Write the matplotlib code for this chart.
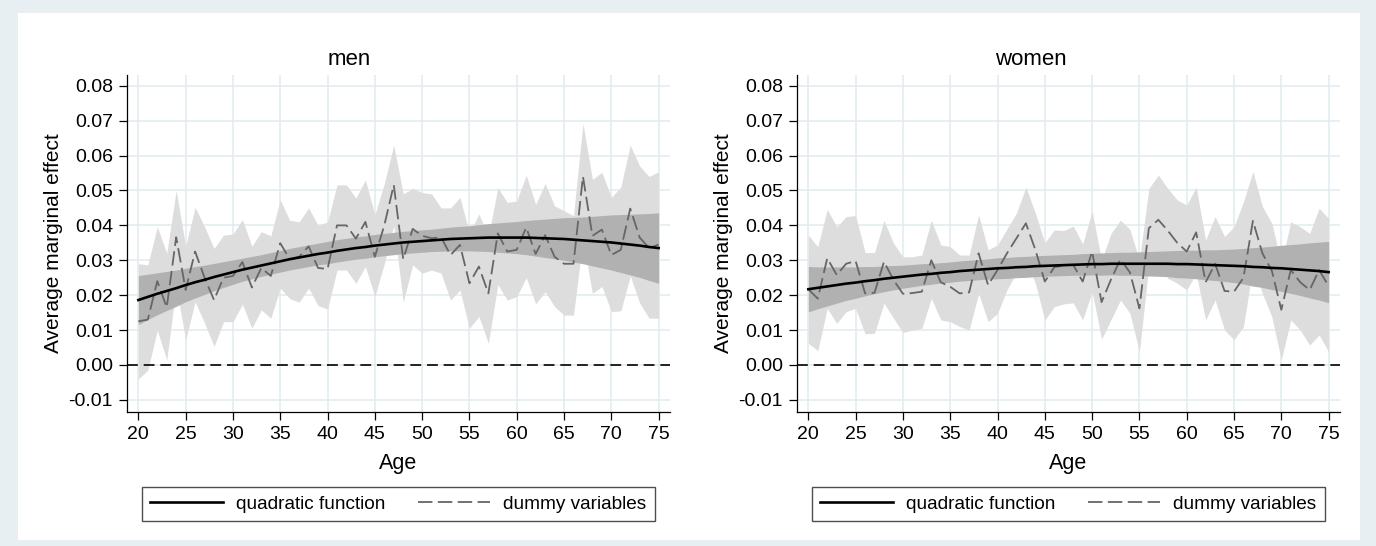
import matplotlib.pyplot as plt
import numpy as np
from matplotlib.patches import Rectangle
from matplotlib.ticker import FormatStrFormatter

plt.rcParams['font.family'] = ['Liberation Sans', 'DejaVu Sans']
plt.rcParams['axes.unicode_minus'] = False

ages = list(range(20, 76))

# men: dummy-variable estimates and their 95% CI
men_dummy = [0.0125, 0.0130, 0.0240, 0.0165, 0.0366, 0.0215, 0.0325, 0.0250, 0.0186, 0.0250,
             0.0255, 0.0295, 0.0222, 0.0278, 0.0255, 0.0349, 0.0303, 0.0310, 0.0340, 0.0278,
             0.0275, 0.0400, 0.0400, 0.0362, 0.0410, 0.0310, 0.0400, 0.0516, 0.0303, 0.0390,
             0.0370, 0.0363, 0.0366, 0.0315, 0.0344, 0.0234, 0.0282, 0.0205, 0.0377, 0.0325,
             0.0330, 0.0394, 0.0318, 0.0372, 0.0310, 0.0290, 0.0290, 0.0540, 0.0370, 0.0388,
             0.0315, 0.0330, 0.0448, 0.0365, 0.0335, 0.0345]
men_dummy_hi = [0.0290, 0.0287, 0.0396, 0.0320, 0.0500, 0.0340, 0.0452, 0.0396, 0.0334, 0.0372,
                0.0375, 0.0417, 0.0340, 0.0382, 0.0370, 0.0473, 0.0415, 0.0410, 0.0450, 0.0400,
                0.0410, 0.0516, 0.0516, 0.0478, 0.0530, 0.0430, 0.0520, 0.0630, 0.0490, 0.0506,
                0.0494, 0.0490, 0.0450, 0.0450, 0.0480, 0.0377, 0.0433, 0.0368, 0.0508, 0.0466,
                0.0470, 0.0544, 0.0460, 0.0520, 0.0456, 0.0442, 0.0428, 0.0692, 0.0532, 0.0552,
                0.0480, 0.0510, 0.0630, 0.0570, 0.0540, 0.0554]
men_dummy_lo = [-0.0040, -0.0015, 0.0100, 0.0014, 0.0224, 0.0072, 0.0181, 0.0120, 0.0053, 0.0124,
                0.0124, 0.0174, 0.0105, 0.0158, 0.0134, 0.0220, 0.0190, 0.0180, 0.0220, 0.0170,
                0.0160, 0.0272, 0.0272, 0.0234, 0.0282, 0.0196, 0.0290, 0.0400, 0.0180, 0.0287,
                0.0263, 0.0272, 0.0263, 0.0186, 0.0215, 0.0105, 0.0139, 0.0062, 0.0230, 0.0186,
                0.0196, 0.0250, 0.0175, 0.0210, 0.0167, 0.0143, 0.0143, 0.0360, 0.0205, 0.0225,
                0.0153, 0.0155, 0.0255, 0.0177, 0.0134, 0.0134]
# men: quadratic fit and half-width of its CI
men_quad = [0.0186, 0.0195, 0.0204, 0.0212, 0.0220, 0.0229, 0.0237, 0.0244, 0.0252, 0.0259,
            0.0266, 0.0273, 0.0279, 0.0285, 0.0291, 0.0297, 0.0303, 0.0308, 0.0313, 0.0318,
            0.0322, 0.0327, 0.0331, 0.0335, 0.0338, 0.0342, 0.0345, 0.0348, 0.0351, 0.0353,
            0.0355, 0.0357, 0.0359, 0.0361, 0.0362, 0.0363, 0.0364, 0.0365, 0.0365, 0.0365,
            0.0365, 0.0365, 0.0364, 0.0363, 0.0362, 0.0361, 0.0359, 0.0357, 0.0355, 0.0353,
            0.0351, 0.0348, 0.0345, 0.0342, 0.0338, 0.0335]
men_quad_ci = [0.0070, 0.0065, 0.0060, 0.0056, 0.0052, 0.0048, 0.0045, 0.0042, 0.0039, 0.0037,
               0.0035, 0.0033, 0.0032, 0.0031, 0.0031, 0.0031, 0.0031, 0.0031, 0.0031, 0.0031,
               0.0032, 0.0032, 0.0032, 0.0032, 0.0032, 0.0032, 0.0032, 0.0032, 0.0032, 0.0032,
               0.0032, 0.0032, 0.0033, 0.0034, 0.0035, 0.0036, 0.0038, 0.0040, 0.0042, 0.0044,
               0.0046, 0.0049, 0.0052, 0.0055, 0.0058, 0.0061, 0.0064, 0.0067, 0.0071, 0.0075,
               0.0079, 0.0083, 0.0087, 0.0091, 0.0096, 0.0101]

# women
women_dummy = [0.0217, 0.0190, 0.0306, 0.0258, 0.0290, 0.0298, 0.0205, 0.0207, 0.0296, 0.0244,
               0.0204, 0.0206, 0.0210, 0.0300, 0.0237, 0.0224, 0.0205, 0.0208, 0.0320, 0.0229,
               0.0272, 0.0320, 0.0363, 0.0406, 0.0330, 0.0239, 0.0280, 0.0285, 0.0287, 0.0239,
               0.0325, 0.0180, 0.0245, 0.0303, 0.0265, 0.0162, 0.0392, 0.0416, 0.0385, 0.0350,
               0.0325, 0.0380, 0.0237, 0.0290, 0.0212, 0.0210, 0.0250, 0.0413, 0.0320, 0.0270,
               0.0158, 0.0272, 0.0237, 0.0215, 0.0272, 0.0226]
women_dummy_hi = [0.0372, 0.0339, 0.0446, 0.0396, 0.0425, 0.0428, 0.0322, 0.0322, 0.0414, 0.0349,
                  0.0310, 0.0310, 0.0315, 0.0415, 0.0344, 0.0339, 0.0315, 0.0315, 0.0430, 0.0330,
                  0.0344, 0.0390, 0.0435, 0.0510, 0.0435, 0.0350, 0.0387, 0.0385, 0.0398, 0.0347,
                  0.0440, 0.0300, 0.0377, 0.0415, 0.0388, 0.0300, 0.0506, 0.0544, 0.0506, 0.0473,
                  0.0458, 0.0510, 0.0358, 0.0425, 0.0368, 0.0396, 0.0468, 0.0554, 0.0454, 0.0406,
                  0.0291, 0.0410, 0.0396, 0.0377, 0.0449, 0.0420]
women_dummy_lo = [0.0062, 0.0041, 0.0162, 0.0119, 0.0153, 0.0162, 0.0089, 0.0091, 0.0177, 0.0134,
                  0.0093, 0.0100, 0.0105, 0.0191, 0.0129, 0.0124, 0.0110, 0.0100, 0.0205, 0.0124,
                  0.0148, 0.0215, 0.0265, 0.0300, 0.0234, 0.0129, 0.0167, 0.0175, 0.0178, 0.0129,
                  0.0210, 0.0074, 0.0130, 0.0186, 0.0148, 0.0038, 0.0285, 0.0296, 0.0248, 0.0234,
                  0.0215, 0.0263, 0.0129, 0.0186, 0.0100, 0.0072, 0.0110, 0.0282, 0.0205, 0.0138,
                  0.0014, 0.0129, 0.0100, 0.0057, 0.0086, 0.0038]
women_quad = [0.0217, 0.0221, 0.0225, 0.0229, 0.0233, 0.0236, 0.0240, 0.0243, 0.0247, 0.0250,
              0.0253, 0.0256, 0.0259, 0.0261, 0.0264, 0.0266, 0.0269, 0.0271, 0.0273, 0.0275,
              0.0277, 0.0278, 0.0280, 0.0281, 0.0283, 0.0284, 0.0285, 0.0286, 0.0287, 0.0288,
              0.0289, 0.0289, 0.0290, 0.0290, 0.0290, 0.0290, 0.0290, 0.0290, 0.0290, 0.0289,
              0.0289, 0.0288, 0.0287, 0.0286, 0.0285, 0.0284, 0.0283, 0.0281, 0.0280, 0.0278,
              0.0277, 0.0275, 0.0273, 0.0271, 0.0269, 0.0266]
women_quad_ci = [0.0065, 0.0060, 0.0056, 0.0052, 0.0048, 0.0045, 0.0042, 0.0039, 0.0037, 0.0035,
                 0.0033, 0.0032, 0.0031, 0.0030, 0.0029, 0.0029, 0.0029, 0.0029, 0.0029, 0.0029,
                 0.0030, 0.0030, 0.0030, 0.0030, 0.0030, 0.0030, 0.0030, 0.0030, 0.0030, 0.0031,
                 0.0031, 0.0032, 0.0032, 0.0033, 0.0033, 0.0034, 0.0035, 0.0036, 0.0037, 0.0039,
                 0.0040, 0.0041, 0.0043, 0.0044, 0.0046, 0.0048, 0.0051, 0.0055, 0.0058, 0.0062,
                 0.0066, 0.0070, 0.0074, 0.0079, 0.0083, 0.0088]

x_ticks = list(range(20, 80, 5))
y_ticks = [-0.01, 0.0, 0.01, 0.02, 0.03, 0.04, 0.05, 0.06, 0.07, 0.08]


def draw_panel(ax, title, title_x, dummy, lo, hi, quad, ci):
    quad_lo = [q - c for q, c in zip(quad, ci)]
    quad_hi = [q + c for q, c in zip(quad, ci)]

    ax.fill_between(ages, lo, hi, color='#dddddd', lw=0, zorder=1)
    ax.fill_between(ages, quad_lo, quad_hi, color='#b1b1b1', lw=0, zorder=2)
    ax.axhline(0, color='black', lw=1.2, ls=(0, (6.5, 3.5)), zorder=3)
    l_dummy, = ax.plot(ages, dummy, color='#666666', lw=1.3, ls=(0, (8, 3)), zorder=4)
    l_quad, = ax.plot(ages, quad, color='black', lw=1.9, zorder=5)

    ax.set_xlim(18.8, 76.2)
    ax.set_ylim(-0.0135, 0.0831)
    ax.set_xticks(x_ticks)
    ax.set_yticks(y_ticks)
    ax.yaxis.set_major_formatter(FormatStrFormatter('%.2f'))
    ax.grid(True, color='#e2ecef', lw=1.2)
    ax.set_axisbelow(True)
    for s in ['top', 'right']:
        ax.spines[s].set_visible(False)
    for s in ['left', 'bottom']:
        ax.spines[s].set_linewidth(0.9)
    ax.tick_params(direction='out', length=6, width=0.9, labelsize=14, pad=4)

    ax.set_title(title, fontsize=16, pad=7, x=title_x)
    ax.set_xlabel('Age', fontsize=15.5, labelpad=7)
    ax.set_ylabel('Average marginal effect', fontsize=15, labelpad=4)

    leg = ax.legend([l_quad, l_dummy], ['quadratic function', 'dummy variables'],
                    loc='upper center', bbox_to_anchor=(0.5, -0.2226), ncol=2,
                    borderaxespad=0, frameon=True, fancybox=False, fontsize=13.7,
                    handlelength=3.8, handletextpad=0.7, columnspacing=1.7, borderpad=0.45)
    leg.get_frame().set_edgecolor('#222222')
    leg.get_frame().set_linewidth(1.0)


fig = plt.figure(figsize=(13.76, 5.46), dpi=100)
fig.patch.set_facecolor('#e7eff2')
fig.add_artist(Rectangle((0.0131, 0.011), 0.9753, 0.965, transform=fig.transFigure,
                         facecolor='white', edgecolor='none', zorder=-1))

ax1 = fig.add_axes([0.0923, 0.2454, 0.3946, 0.6172])
ax2 = fig.add_axes([0.5792, 0.2454, 0.3946, 0.6172])

draw_panel(ax1, 'men', 0.409, men_dummy, men_dummy_lo, men_dummy_hi, men_quad, men_quad_ci)
draw_panel(ax2, 'women', 0.43, women_dummy, women_dummy_lo, women_dummy_hi, women_quad, women_quad_ci)

plt.savefig('out.png', dpi=100, facecolor=fig.get_facecolor())
